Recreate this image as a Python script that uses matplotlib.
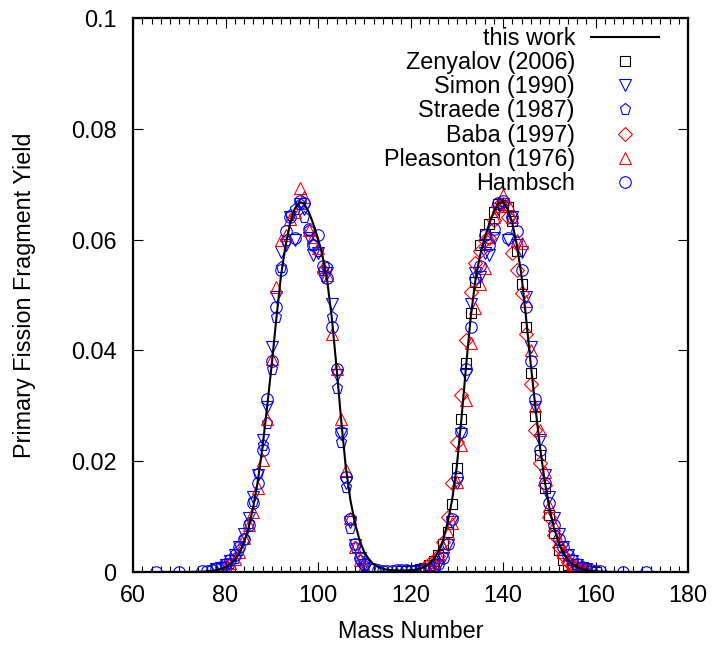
import matplotlib
matplotlib.use("Agg")
import matplotlib.pyplot as plt
from matplotlib.ticker import MultipleLocator, FixedLocator

plt.rcParams['font.family'] = ['Liberation Sans', 'DejaVu Sans']

# ---------------- data ----------------
# "this work" curve
curve_A = [66, 67, 68, 69, 70, 71, 72, 73, 74, 75, 76, 77, 78, 79, 80, 81, 82, 83, 84, 85,
           86, 87, 88, 89, 90, 91, 92, 93, 94, 95, 96, 97, 98, 99, 100, 101, 102, 103, 104,
           105, 106, 107, 108, 109, 110, 111, 112, 113, 114, 115, 116, 117, 118, 119, 120,
           121, 122, 123, 124, 125, 126, 127, 128, 129, 130, 131, 132, 133, 134, 135, 136,
           137, 138, 139, 140, 141, 142, 143, 144, 145, 146, 147, 148, 149, 150, 151, 152,
           153, 154, 155, 156, 157, 158, 159, 160, 161, 162, 163, 164, 165, 166, 167, 168,
           169, 170]
curve_Y = [0, 0, 0, 0, 0, 0, 0.00001, 0.00002, 0.00004, 0.00007, 0.00012, 0.0002, 0.00033,
           0.00055, 0.0009, 0.0014, 0.0022, 0.0034, 0.0054, 0.0080, 0.0117, 0.0165, 0.0225,
           0.0298, 0.0375, 0.0458, 0.0535, 0.0590, 0.0630, 0.0656, 0.0668, 0.0665, 0.0650,
           0.0628, 0.0602, 0.0570, 0.0525, 0.0458, 0.0370, 0.0275, 0.0190, 0.0130, 0.0088,
           0.0057, 0.0036, 0.0023, 0.0014, 0.0009, 0.0006, 0.0004, 0.00032, 0.00028, 0.00025,
           0.00028, 0.00032, 0.0004, 0.0006, 0.0009, 0.0014, 0.0023, 0.0036, 0.0057, 0.0088,
           0.0130, 0.0190, 0.0275, 0.0370, 0.0458, 0.0525, 0.0570, 0.0602, 0.0628, 0.0650,
           0.0665, 0.0668, 0.0656, 0.0630, 0.0590, 0.0535, 0.0458, 0.0375, 0.0298, 0.0225,
           0.0165, 0.0117, 0.0080, 0.0054, 0.0034, 0.0022, 0.0014, 0.0009, 0.00055, 0.00033,
           0.0002, 0.00012, 0.00007, 0.00004, 0.00002, 0.00001, 0, 0, 0, 0, 0, 0]

# Zenyalov (2006)
zen_A = [118, 119, 120, 121, 122, 123, 124, 125, 126, 127, 128, 129, 130, 131, 132, 133, 134,
         135, 136, 137, 138, 139, 140, 141, 142, 143, 144, 145, 146, 147, 148, 149, 150, 151,
         152, 153, 154, 155, 156, 157, 158, 159, 160]
zen_Y = [0.0002, 0.0002, 0.0003, 0.0004, 0.0005, 0.0008, 0.0012, 0.0020, 0.0030, 0.0050,
         0.0072, 0.0123, 0.0188, 0.0277, 0.0378, 0.0467, 0.0524, 0.0590, 0.0611, 0.0629,
         0.0649, 0.0665, 0.0662, 0.0658, 0.0634, 0.0580, 0.0520, 0.0443, 0.0360, 0.0282,
         0.0211, 0.0151, 0.0103, 0.0070, 0.0040, 0.0022, 0.0012, 0.0007, 0.0004, 0.0002,
         0.0001, 0.0001, 0.0]

# Simon (1990)
sim_A = [78, 79, 80, 81, 82, 83, 84, 85, 86, 87, 88, 89, 90, 91, 92, 93, 94, 95, 96, 97, 98,
         99, 100, 101, 102, 103, 104, 105, 106, 107, 108, 109, 110,
         126, 127, 128, 129, 130, 131, 132, 133, 134, 135, 136, 137, 138, 139, 140, 141, 142,
         143, 144, 145, 146, 147, 148, 149, 150, 151, 152, 153, 154, 155, 156, 157, 158]
sim_Y = [0.0005, 0.0008, 0.0012, 0.0019, 0.0030, 0.0045, 0.0068, 0.0098, 0.0136, 0.0175,
         0.0238, 0.0298, 0.0407, 0.0497, 0.0578, 0.0590, 0.0640, 0.0600, 0.0665, 0.0655,
         0.0603, 0.0573, 0.0575, 0.0533, 0.0540, 0.0483, 0.0356, 0.0250, 0.0160, 0.0090,
         0.0048, 0.0025, 0.0012,
         0.0012, 0.0025, 0.0048, 0.0090, 0.0160, 0.0250, 0.0356, 0.0483, 0.0540, 0.0533,
         0.0575, 0.0573, 0.0603, 0.0655, 0.0665, 0.0600, 0.0640, 0.0590, 0.0578, 0.0497,
         0.0407, 0.0298, 0.0238, 0.0175, 0.0136, 0.0098, 0.0068, 0.0045, 0.0030, 0.0019,
         0.0012, 0.0008, 0.0005]

# Straede (1987)
str_A = [80, 81, 82, 83, 84, 85, 86, 87, 88, 89, 90, 91, 92, 93, 94, 95, 96, 97, 98, 99, 100,
         101, 102, 103, 104, 105, 106, 107, 108, 109, 110]
str_Y = [0.0010, 0.0016, 0.0025, 0.0040, 0.0060, 0.0088, 0.0128, 0.0178, 0.0230, 0.0269,
         0.0366, 0.0460, 0.0550, 0.0600, 0.0645, 0.0655, 0.0665, 0.0641, 0.0617, 0.0590,
         0.0580, 0.0545, 0.0551, 0.0460, 0.0332, 0.0235, 0.0154, 0.0080, 0.0045, 0.0022,
         0.0012]

# Baba (1997)
bab_A = [123, 124, 125, 126, 127, 128, 129, 130, 131, 132, 133, 134, 135, 136, 137, 138, 139,
         140, 141, 142, 143, 144, 145, 146, 147, 148, 149, 150, 151, 152, 153, 154, 155, 156,
         157, 158]
bab_Y = [0.0008, 0.0014, 0.0020, 0.0028, 0.0055, 0.0100, 0.0160, 0.0235, 0.0320, 0.0419,
         0.0506, 0.0557, 0.0580, 0.0600, 0.0602, 0.0635, 0.0660, 0.0665, 0.0640, 0.0575,
         0.0546, 0.0503, 0.0430, 0.0340, 0.0256, 0.0196, 0.0157, 0.0100, 0.0067, 0.0045,
         0.0030, 0.0018, 0.0012, 0.0008, 0.0005, 0.0003]

# Pleasonton (1976)
ple_A = [80, 81, 82, 83, 84, 85, 86, 87, 88, 89, 90, 91, 92, 93, 94, 95, 96, 97, 98, 99, 100,
         101, 102, 103, 104, 105, 106, 107, 108, 109, 110,
         124, 125, 126, 127, 128, 129, 130, 131, 132, 133, 134, 135, 136, 137, 138, 139, 140,
         141, 142, 143, 144, 145, 146, 147, 148, 149, 150, 151, 152, 153, 154, 155, 156, 157,
         158]
ple_Y = [0.0010, 0.0016, 0.0024, 0.0037, 0.0061, 0.0085, 0.0109, 0.0152, 0.0203, 0.0277,
         0.0384, 0.0515, 0.0600, 0.0608, 0.0637, 0.0650, 0.0694, 0.0677, 0.0617, 0.0605,
         0.0585, 0.0551, 0.0536, 0.0430, 0.0366, 0.0276, 0.0185, 0.0098, 0.0045, 0.0022,
         0.0010,
         0.0010, 0.0018, 0.0030, 0.0045, 0.0070, 0.0088, 0.0163, 0.0229, 0.0310, 0.0413,
         0.0476, 0.0520, 0.0548, 0.0605, 0.0640, 0.0660, 0.0680, 0.0665, 0.0640, 0.0600,
         0.0593, 0.0490, 0.0400, 0.0300, 0.0256, 0.0180, 0.0120, 0.0085, 0.0056, 0.0036,
         0.0024, 0.0015, 0.0010, 0.0006, 0.0004]

# Hambsch
ham_A = [65, 70, 75, 76, 77, 78, 79, 80, 81, 82, 83, 84, 85, 86, 87, 88, 89, 90, 91, 92, 93,
         94, 95, 96, 97, 98, 99, 100, 101, 102, 103, 104, 105, 106, 107, 108, 109, 110, 111,
         112, 113, 114, 115, 116, 117, 118, 119, 120, 121, 122, 123, 124, 125, 126, 127, 128,
         129, 130, 131, 132, 133, 134, 135, 136, 137, 138, 139, 140, 141, 142, 143, 144, 145,
         146, 147, 148, 149, 150, 151, 152, 153, 154, 155, 156, 157, 158, 159, 160, 161, 166,
         171]
ham_Y = [0.0, 0.0, 0.0001, 0.0002, 0.0004, 0.0006, 0.0009, 0.0014, 0.0022, 0.0030, 0.0045,
         0.0060, 0.0085, 0.0125, 0.0160, 0.0220, 0.0313, 0.0380, 0.0479, 0.0546, 0.0616,
         0.0640, 0.0602, 0.0670, 0.0666, 0.0620, 0.0591, 0.0608, 0.0553, 0.0530, 0.0443,
         0.0366, 0.0253, 0.0172, 0.0095, 0.0050, 0.0025, 0.0014, 0.0008, 0.0005, 0.0003,
         0.0002, 0.0002, 0.0002, 0.0003, 0.0003, 0.0003, 0.0002, 0.0002, 0.0002, 0.0003,
         0.0005, 0.0008, 0.0014, 0.0025, 0.0050, 0.0095, 0.0172, 0.0253, 0.0366, 0.0443,
         0.0530, 0.0553, 0.0608, 0.0591, 0.0620, 0.0666, 0.0670, 0.0602, 0.0640, 0.0616,
         0.0546, 0.0479, 0.0380, 0.0313, 0.0220, 0.0160, 0.0125, 0.0085, 0.0060, 0.0045,
         0.0030, 0.0022, 0.0014, 0.0009, 0.0006, 0.0004, 0.0002, 0.0001, 0.0, 0.0]

x_ticks = [60, 80, 100, 120, 140, 160, 180]
y_ticks = [0, 0.02, 0.04, 0.06, 0.08, 0.1]
y_tick_labels = ['0', '0.02', '0.04', '0.06', '0.08', '0.1']

# ---------------- figure ----------------
FS = 16.8
fig = plt.figure(figsize=(7.12, 6.45), dpi=100)
ax = fig.add_axes([133 / 712, 1 - 572 / 645, 555 / 712, 554 / 645])

mk = dict(linestyle='none', markerfacecolor='none', markeredgewidth=0.8)
ax.plot(curve_A, curve_Y, color='black', lw=1.5, label='this work', zorder=5)
ax.plot(zen_A, zen_Y, marker='s', markersize=7.3, color='black', label='Zenyalov (2006)', **mk)
ax.plot(sim_A, sim_Y, marker='v', markersize=8.3, color='blue', label='Simon (1990)', **mk)
ax.plot(str_A, str_Y, marker='p', markersize=8.3, color='blue', label='Straede (1987)', **mk)
ax.plot(bab_A, bab_Y, marker='D', markersize=6.8, color='red', label='Baba (1997)', **mk)
ax.plot(ple_A, ple_Y, marker='^', markersize=8.3, color='red', label='Pleasonton (1976)', **mk)
ax.plot(ham_A, ham_Y, marker='o', markersize=8.3, color='blue', label='Hambsch', **mk)

ax.set_xlim(60, 180)
ax.set_ylim(0, 0.1)
ax.xaxis.set_major_locator(FixedLocator(x_ticks))
ax.xaxis.set_minor_locator(MultipleLocator(2))
ax.set_yticks(y_ticks)
ax.set_yticklabels(y_tick_labels)
ax.tick_params(which='both', direction='in', top=True, right=True, labelsize=FS, width=0.8)
ax.tick_params(which='major', length=7)
ax.tick_params(which='minor', length=4)
ax.tick_params(axis='x', which='major', pad=9)
ax.tick_params(axis='y', which='major', pad=12)
for s in ax.spines.values():
    s.set_linewidth(1.6)

ax.set_xlabel('Mass Number', fontsize=FS)
ax.set_ylabel('Primary Fission Fragment Yield', fontsize=FS)
ax.xaxis.set_label_coords(0.5, (572 - 631) / 554)
ax.xaxis.label.set_va('center')
ax.yaxis.set_label_coords((25 - 133) / 555, 0.5)
ax.yaxis.label.set_va('center')

leg = ax.legend(loc='upper right', frameon=False, markerfirst=False, fontsize=FS,
                handlelength=2.9, handletextpad=0.7, labelspacing=0.05,
                borderaxespad=0.0, borderpad=0.0,
                bbox_to_anchor=((659 - 133) / 555, (572 - 27) / 554))

fig.savefig('out.png', dpi=100)
